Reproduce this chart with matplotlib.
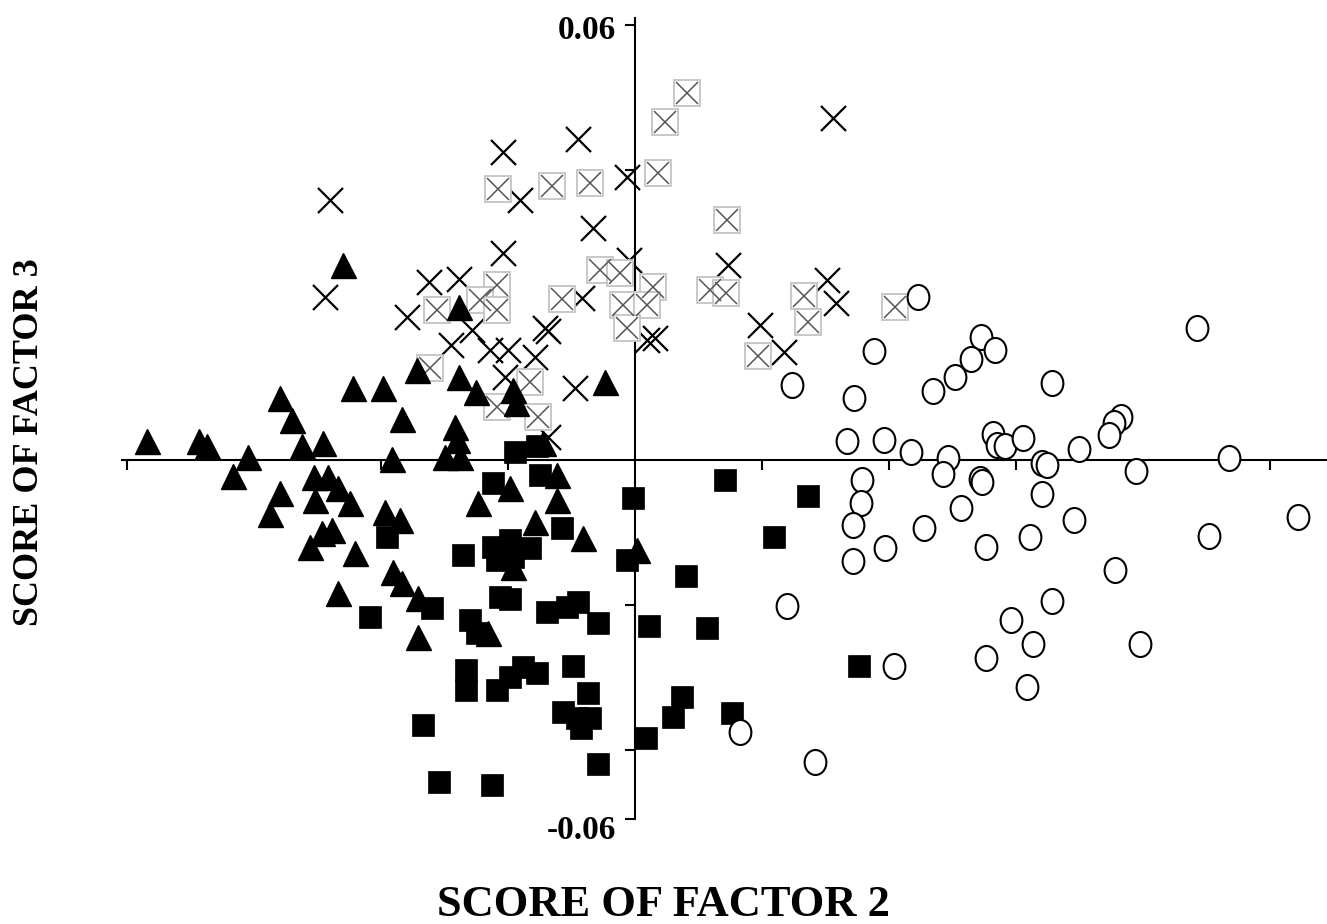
import numpy as np
import matplotlib.pyplot as plt
from matplotlib.path import Path

# scores on factor 2 (x) and factor 3 (y), one pair of lists per group
tri_x = [-0.07685, -0.06866, -0.06740, -0.06094, -0.06331, -0.05591, -0.05402, -0.05244, -0.04913,
         -0.05055, -0.04835, -0.04677, -0.05039, -0.04488, -0.05591, -0.05748, -0.04929, -0.04772,
         -0.05118, -0.04409, -0.04441, -0.03969, -0.03669, -0.03827, -0.03937, -0.03701, -0.03811,
         -0.03669, -0.04677, -0.03417, -0.03417, -0.03433, -0.02772, -0.02504, -0.02835, -0.02803,
         -0.02992, -0.02756, -0.01921, -0.01874, -0.01449, -0.00472, -0.02772, -0.04598, -0.02472,
         -0.01969, -0.01228, -0.01228, -0.01575, -0.00819, -0.01921, -0.02315, 0.00031]
tri_y = [0.00262, 0.00262, 0.00193, 0.00041, -0.00221, 0.00855, 0.00552, 0.00193, 0.00234,
         -0.00234, -0.00234, -0.00386, -0.00552, -0.00593, -0.00455, -0.00745, -0.01007, -0.00966,
         -0.01200, -0.01283, 0.00993, 0.00993, 0.00566, 0.00014, -0.00717, -0.00828, -0.01545,
         -0.01697, -0.01834, -0.01903, -0.02441, 0.01241, 0.01145, 0.00938, 0.00455, 0.00276,
         0.00041, 0.00041, 0.00966, 0.00786, 0.00234, 0.01076, 0.02110, 0.02690, -0.00593,
         -0.00386, -0.00207, -0.00552, -0.00855, -0.01076, -0.01476, -0.02386, -0.01241]

sq_x = [-0.01890, -0.01543, -0.02236, -0.01496, -0.00031, -0.03906, -0.02709, -0.02236, -0.01969,
        -0.02173, -0.01654, -0.01921, -0.01150, -0.00126, -0.02126, -0.01969, -0.03197, -0.04173,
        -0.02598, -0.02488, -0.01386, -0.01071, -0.00898, -0.00583, -0.02661, -0.02661, -0.02173,
        -0.01969, -0.01764, -0.01543, -0.00976, -0.00740, -0.01134, -0.00913, -0.00709, -0.00850,
        -0.03339, -0.00583, -0.03087, -0.02252, 0.01417, 0.02724, 0.02189, 0.00803, 0.00220,
        0.01134, 0.03528, 0.00740, 0.00598, 0.01528, 0.00173]
sq_y = [0.00110, 0.00193, -0.00317, -0.00207, -0.00524, -0.01062, -0.01310, -0.01200, -0.01103,
        -0.01379, -0.01214, -0.01338, -0.00938, -0.01379, -0.01890, -0.01917, -0.02041, -0.02166,
        -0.02207, -0.02386, -0.02097, -0.02028, -0.01959, -0.02248, -0.02897, -0.03172, -0.03172,
        -0.02993, -0.02855, -0.02938, -0.02841, -0.03214, -0.03476, -0.03559, -0.03559, -0.03697,
        -0.03655, -0.04193, -0.04441, -0.04483, -0.00276, -0.00497, -0.01062, -0.01600, -0.02290,
        -0.02317, -0.02841, -0.03269, -0.03545, -0.03490, -0.03834]

circ_x = [0.04457, 0.08850, 0.05449, 0.03764, 0.05669, 0.05291, 0.05039, 0.04693, 0.02472,
          0.06567, 0.03449, 0.07654, 0.07543, 0.07465, 0.03339, 0.03921, 0.05638, 0.05701,
          0.05827, 0.06110, 0.04346, 0.04929, 0.06992, 0.06409, 0.06488, 0.09354, 0.04850,
          0.05433, 0.05465, 0.07890, 0.03575, 0.03559, 0.06409, 0.05134, 0.10441, 0.03433,
          0.04551, 0.06913, 0.06220, 0.09039, 0.05528, 0.03937, 0.03433, 0.07559, 0.02394,
          0.06567, 0.05921, 0.06268, 0.05528, 0.07953, 0.04079, 0.06173, 0.01654, 0.02835]
circ_y = [0.02248, 0.01821, 0.01697, 0.01503, 0.01517, 0.01393, 0.01145, 0.00952, 0.01034,
          0.01062, 0.00855, 0.00593, 0.00510, 0.00345, 0.00262, 0.00276, 0.00359, 0.00207,
          0.00193, 0.00303, 0.00110, 0.00028, 0.00152, -0.00041, -0.00069, 0.00028, -0.00193,
          -0.00262, -0.00303, -0.00152, -0.00276, -0.00593, -0.00469, -0.00662, -0.00786, -0.00897,
          -0.00938, -0.00828, -0.01062, -0.01048, -0.01200, -0.01214, -0.01393, -0.01517, -0.02014,
          -0.01945, -0.02207, -0.02538, -0.02731, -0.02538, -0.02841, -0.03131, -0.03752, -0.04166]

cross_x = [-0.04803, -0.02079, -0.00898, -0.01811, -0.00126, -0.00661, -0.02079, -0.00094, -0.03244,
           -0.02772, 0.01465, 0.03118, -0.04882, -0.03591, -0.00835, 0.00315, 0.00189, -0.01417,
           -0.01370, -0.02898, -0.02567, -0.02283, -0.02000, -0.01575, -0.02047, -0.00945, 0.03024,
           0.03165, 0.01969, 0.02346, -0.01370]
cross_y = [0.03586, 0.04248, 0.04428, 0.03586, 0.03903, 0.03200, 0.02855, 0.02759, 0.02455,
           0.02497, 0.02690, 0.04717, 0.02248, 0.01972, 0.02234, 0.01683, 0.01655, 0.01821,
           0.01779, 0.01586, 0.01793, 0.01517, 0.01517, 0.01421, 0.01145, 0.00993, 0.02483,
           0.02166, 0.01862, 0.01490, 0.00317]

box_x = [0.00819, 0.00472, 0.00362, -0.00709, -0.01307, -0.02157, 0.01449, -0.00551, -0.00236,
         0.00283, -0.02173, -0.02441, -0.02173, -0.03118, -0.01150, -0.00189, 0.00189, -0.00126,
         0.01181, 0.01433, 0.02661, 0.02724, 0.01937, 0.04094, -0.03228, -0.01654, -0.02173, -0.01528]
box_y = [0.05062, 0.04662, 0.03959, 0.03821, 0.03779, 0.03738, 0.03310, 0.02621, 0.02579,
         0.02386, 0.02414, 0.02207, 0.02069, 0.02069, 0.02221, 0.02138, 0.02138, 0.01821,
         0.02345, 0.02303, 0.02262, 0.01903, 0.01434, 0.02110, 0.01269, 0.01076, 0.00731, 0.00593]

y_ticks = [-0.0495, -0.04, -0.02, 0.02, 0.04, 0.06]
# end-of-axis numbers and their pixel drop below the tick
y_end_labels = [(0.06, "0.06", -5), (-0.0495, "-0.06", -11)]
x_ticks = [-0.08, -0.06, -0.04, -0.02, 0.02, 0.04, 0.06, 0.08, 0.10]

serif = ["Liberation Serif", "DejaVu Serif"]

fig = plt.figure(figsize=(13.27, 9.24), dpi=100)
ax = fig.add_axes([0.0919, 0.1136, 0.9081, 0.8669])
ax.set_xlim(-0.0808, 0.1090)
ax.set_ylim(-0.0495, 0.0610)

# slightly tall open circles
uc = Path.unit_circle()
oval = Path(uc.vertices * np.array([0.87, 1.0]), uc.codes)

ax.plot(cross_x, cross_y, ls="none", marker="x", ms=18, mew=1.6, color="black",
        zorder=2, clip_on=False)
ax.plot(box_x, box_y, ls="none", marker="s", ms=19, mew=1.3, mfc="white", mec="#c4c4c4",
        zorder=3, clip_on=False)
ax.plot(box_x, box_y, ls="none", marker="x", ms=16, mew=1.1, color="#555555",
        zorder=3.1, clip_on=False)
ax.plot(tri_x, tri_y, ls="none", marker="^", ms=18, color="black", zorder=4, clip_on=False)
ax.plot(sq_x, sq_y, ls="none", marker="s", ms=16, mew=0.5, color="black", zorder=5,
        clip_on=False)
ax.plot(circ_x, circ_y, ls="none", marker=oval, ms=18, mew=1.5, mfc="white", mec="black",
        zorder=6, clip_on=False)

# axes crossing at the origin
for side in ("top", "right"):
    ax.spines[side].set_visible(False)
for side in ("left", "bottom"):
    ax.spines[side].set_position(("data", 0))
    ax.spines[side].set_linewidth(1.5)
    ax.spines[side].set_zorder(1)

ax.set_yticks(y_ticks)
ax.set_yticklabels([])
ax.set_xticks(x_ticks)
ax.set_xticklabels([])
ax.tick_params(axis="both", direction="out", length=7, width=1.5)

# only the two ends of the vertical axis carry numbers
for yv, txt, dy in y_end_labels:
    ax.annotate(txt, xy=(0, yv), xycoords="data", xytext=(-19, dy),
                textcoords="offset pixels", ha="right", va="center",
                fontfamily=serif, fontweight="bold", fontsize=24)

fig.text(0.0226, 0.5216, "SCORE OF FACTOR 3", rotation=90, ha="center", va="center",
         fontfamily=serif, fontweight="bold", fontsize=26)
fig.text(0.4996, 0.0206, "SCORE OF FACTOR 2", ha="center", va="center",
         fontfamily=serif, fontweight="bold", fontsize=32)

fig.savefig("out.png", dpi=100)
